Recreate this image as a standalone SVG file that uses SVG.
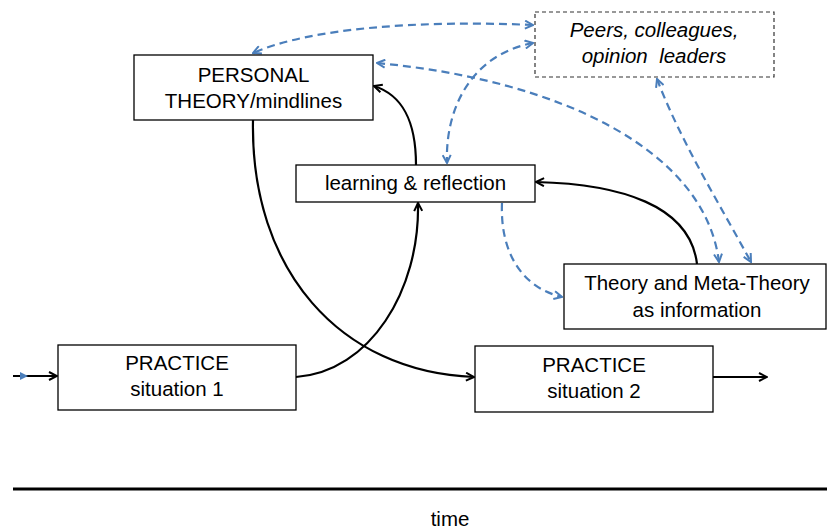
<svg xmlns="http://www.w3.org/2000/svg" width="827" height="532" viewBox="0 0 827 532">
<defs>
<style>
.box{fill:#fff;stroke:#000;stroke-width:1.3}
.dbox{fill:#fff;stroke:#333;stroke-width:1.2;stroke-dasharray:4,3}
.t{font-family:"Liberation Sans",Arial,sans-serif;font-size:20.5px;fill:#000;text-anchor:middle}
.it{font-style:italic}
.k{fill:none;stroke:#000;stroke-width:2.2}
.b{fill:none;stroke:#4a7ebb;stroke-width:2.2;stroke-dasharray:8,5}
</style>
<marker id="ak" viewBox="0 0 10 10" refX="9" refY="5" markerWidth="10" markerHeight="10" markerUnits="userSpaceOnUse" orient="auto-start-reverse">
<path d="M1,1 L9,5 L1,9" fill="none" stroke="#000" stroke-width="2"/>
</marker>
<marker id="ab" viewBox="0 0 10 10" refX="9" refY="5" markerWidth="10" markerHeight="10" markerUnits="userSpaceOnUse" orient="auto-start-reverse">
<path d="M1,1 L9,5 L1,9" fill="none" stroke="#4a7ebb" stroke-width="2"/>
</marker>
</defs>
<rect width="827" height="532" fill="#fff"/>
<g id="connectors">
<path class="k" d="M13,376 L57,376" marker-end="url(#ak)"/>
<polygon points="20,372 28,376 20,380" fill="#4a7ebb"/>
<path class="k" d="M296,377 C370,372 420,290 418,203" marker-end="url(#ak)"/>
<path class="k" d="M253,120 C250,270 340,372 474,377" marker-end="url(#ak)"/>
<path class="k" d="M416,165 C416,120 402,95 374,86" marker-end="url(#ak)"/>
<path class="k" d="M697,264 C690,205 620,184 536,182" marker-end="url(#ak)"/>
<path class="k" d="M713,377 L767,377" marker-end="url(#ak)"/>
<path class="b" d="M533,25 C420,20 310,28 253,53" marker-start="url(#ab)" marker-end="url(#ab)"/>
<path class="b" d="M377,63 C560,80 705,150 719,262" marker-start="url(#ab)" marker-end="url(#ab)"/>
<path class="b" d="M657,79 C680,140 720,205 751,262" marker-start="url(#ab)" marker-end="url(#ab)"/>
<path class="b" d="M533,43 C470,55 445,110 447,163" marker-start="url(#ab)" marker-end="url(#ab)"/>
<path class="b" d="M502,203 C500,250 520,287 562,297" marker-end="url(#ab)"/>
<path d="M13,489 L827,489" stroke="#000" stroke-width="3"/>
</g>
<g id="personal">
<rect class="box" x="134" y="55" width="239" height="65"/>
<text class="t" x="253.5" y="82">PERSONAL</text>
<text class="t" x="253.5" y="108">THEORY/mindlines</text>
</g>
<g id="learning">
<rect class="box" x="296" y="165" width="239" height="37"/>
<text class="t" x="415.5" y="190">learning &amp; reflection</text>
</g>
<g id="peers">
<rect class="dbox" x="535" y="12" width="239" height="65"/>
<text class="t it" x="654" y="37">Peers, colleagues,</text>
<text class="t it" x="654" y="63" xml:space="preserve">opinion  leaders</text>
</g>
<g id="theory">
<rect class="box" x="564" y="264" width="262" height="65"/>
<text class="t" x="697" y="290">Theory and Meta-Theory</text>
<text class="t" x="697" y="317">as information</text>
</g>
<g id="practice1">
<rect class="box" x="58" y="345" width="238" height="65"/>
<text class="t" x="177" y="370">PRACTICE</text>
<text class="t" x="177" y="396">situation 1</text>
</g>
<g id="practice2">
<rect class="box" x="475" y="346" width="238" height="66"/>
<text class="t" x="594" y="372">PRACTICE</text>
<text class="t" x="594" y="398">situation 2</text>
</g>
<g id="time">
<text class="t" x="450" y="526">time</text>
</g>
</svg>
